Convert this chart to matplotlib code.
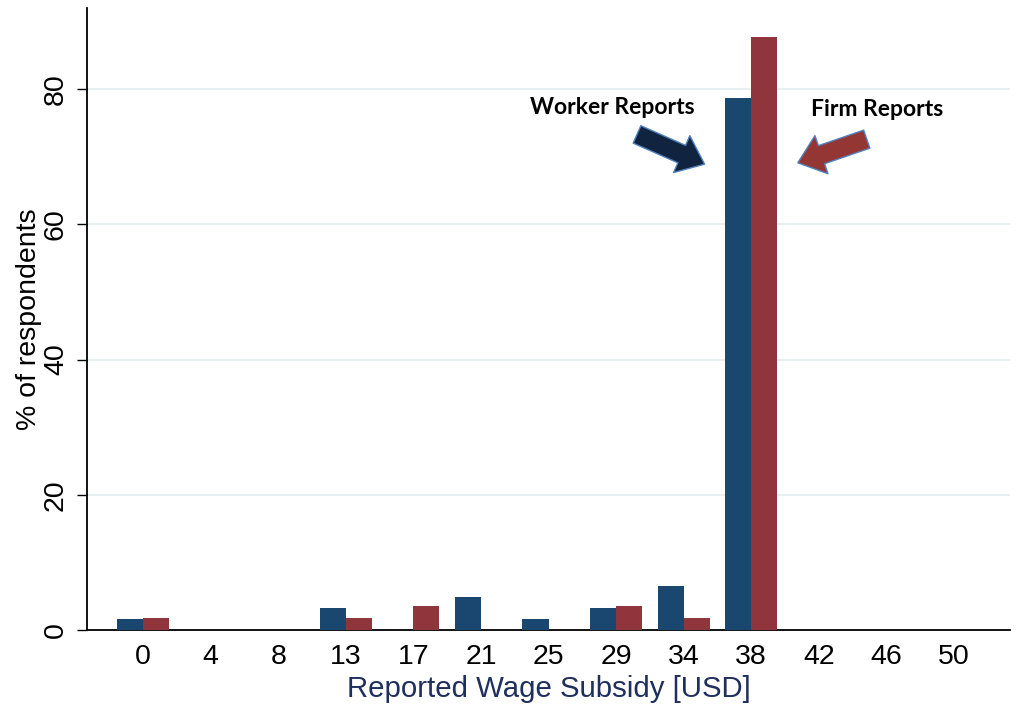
import matplotlib
matplotlib.use("Agg")
import matplotlib.pyplot as plt
import numpy as np

categories = ["0", "4", "8", "13", "17", "21", "25", "29", "34", "38", "42", "46", "50"]
worker = [1.64, 0, 0, 3.28, 0, 4.92, 1.64, 3.28, 6.56, 78.69, 0, 0, 0]
firm = [1.75, 0, 0, 1.75, 3.51, 0, 0, 3.51, 1.75, 87.72, 0, 0, 0]
yticks = [0, 20, 40, 60, 80]

BLUE = "#1a476f"
RED = "#90353b"

plt.rcParams['font.family'] = ['Liberation Sans', 'DejaVu Sans']

fig = plt.figure(figsize=(10.21, 7.04), dpi=100)
ax = fig.add_axes([87/1021, 74/704, (1010-87)/1021, (630-8)/704])

x = np.arange(len(categories))
w = 0.385
ax.bar(x - w/2, worker, width=w, color=BLUE, zorder=3)
ax.bar(x + w/2, firm, width=w, color=RED, zorder=3)

ax.set_xlim(-0.83, len(categories) - 1 + 0.83)
ax.set_ylim(0, 92)
ax.set_xticks(x)
ax.set_xticklabels(categories)
ax.set_yticks(yticks)
ax.set_yticklabels([str(v) for v in yticks], rotation=90, va='center')
ax.tick_params(axis='x', length=0, pad=10, labelsize=20.5)
ax.tick_params(axis='y', length=7, width=1, pad=6, labelsize=20.5, direction='out')
ax.yaxis.grid(True, color='#e4ecee', linewidth=1.2, zorder=0)
ax.set_axisbelow(True)
for s in ['top', 'right']:
    ax.spines[s].set_visible(False)
for s in ['left', 'bottom']:
    ax.spines[s].set_linewidth(1.3)
    ax.spines[s].set_color('black')

ax.set_xlabel("Reported Wage Subsidy [USD]", fontsize=21.2, color='#1f2f5e', labelpad=4)
ax.set_ylabel("% of respondents", fontsize=20.5, color='black', labelpad=1)

ax.text(6.94, 77.3, "Worker Reports", fontsize=16.5, fontweight='bold',
        family=['Lato', 'DejaVu Sans'], ha='center', va='center', zorder=5)
ax.text(10.86, 77.0, "Firm Reports", fontsize=16.5, fontweight='bold',
        family=['Lato', 'DejaVu Sans'], ha='center', va='center', zorder=5)

style = "simple,head_length=1.8,head_width=2.9,tail_width=1.37"
ax.annotate("", xy=(8.31, 68.9), xytext=(7.31, 73.3),
            arrowprops=dict(arrowstyle=style, mutation_scale=10, fc='#10243f',
                            ec='#4f81bd', lw=1, shrinkA=0, shrinkB=0), zorder=6)
ax.annotate("", xy=(9.69, 69.1), xytext=(10.71, 72.6),
            arrowprops=dict(arrowstyle=style, mutation_scale=10, fc='#943634',
                            ec='#4f81bd', lw=1, shrinkA=0, shrinkB=0), zorder=6)

fig.savefig("out.png", dpi=100)
